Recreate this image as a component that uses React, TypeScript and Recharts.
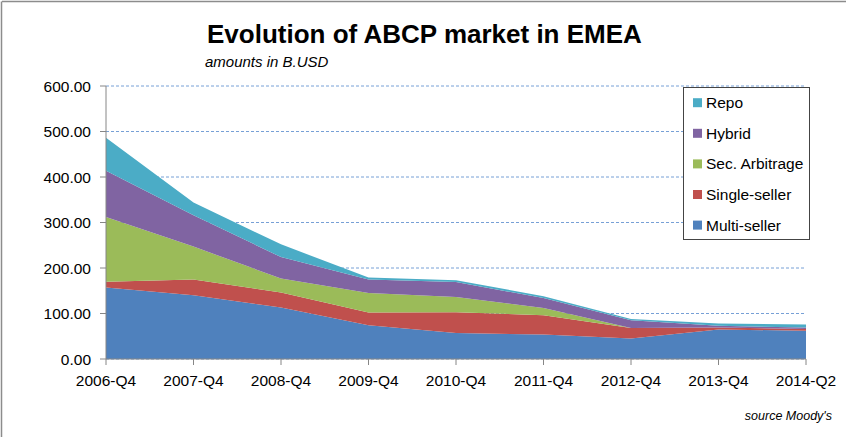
import { AreaChart, Area, XAxis, YAxis, CartesianGrid } from "recharts"

const quarters = ["2006-Q4", "2007-Q4", "2008-Q4", "2009-Q4", "2010-Q4", "2011-Q4", "2012-Q4", "2013-Q4", "2014-Q2"]

const multiSeller = [157, 140, 113, 74, 57, 54, 45, 65, 62]
const singleSeller = [13, 35, 33, 28, 46, 42, 23, 4, 4]
const secArbitrage = [142, 72, 31, 43, 33, 16, 0, 0, 0]
const hybrid = [102, 69, 47, 30, 33, 22, 17, 4, 3]
const repo = [72, 28, 28, 4, 4, 4, 3, 5, 7]

const yTicks = [0, 100, 200, 300, 400, 500, 600]

// bottom to top stacking order
const series = [
  { key: "multi", name: "Multi-seller", color: "#4F81BD", values: multiSeller },
  { key: "single", name: "Single-seller", color: "#C0504D", values: singleSeller },
  { key: "sec", name: "Sec. Arbitrage", color: "#9BBB59", values: secArbitrage },
  { key: "hybrid", name: "Hybrid", color: "#8064A2", values: hybrid },
  { key: "repo", name: "Repo", color: "#4BACC6", values: repo },
]

const data = quarters.map((q, i) => {
  const row: any = { quarter: q }
  series.forEach((s) => {
    row[s.key] = s.values[i]
  })
  return row
})

const font = "'Liberation Sans', Arial, sans-serif"

export default function App() {
  const legendItems = [...series].reverse()

  return (
    <div style={{ position: "absolute", left: 0, top: 0, width: 846, height: 437, background: "#fff", fontFamily: font }}>
      <AreaChart width={846} height={437} data={data} margin={{ top: 86, right: 40, left: 0, bottom: 0 }}>
        <CartesianGrid vertical={false} stroke="#5F8FCF" strokeOpacity={0.85} strokeDasharray="3 2" />
        {series.map((s) => (
          <Area
            key={s.key}
            type="linear"
            dataKey={s.key}
            name={s.name}
            stackId="abcp"
            fill={s.color}
            fillOpacity={1}
            stroke="none"
            isAnimationActive={false}
          />
        ))}
        <XAxis
          dataKey="quarter"
          interval={0}
          height={78}
          tickSize={6}
          tickMargin={10}
          stroke="#868686"
          tick={{ fill: "#000", fontSize: 15.5, fontFamily: font }}
        />
        <YAxis
          domain={[0, 600]}
          ticks={yTicks}
          width={106}
          tickSize={6}
          tickMargin={9}
          stroke="#868686"
          tickFormatter={(v: number) => v.toFixed(2)}
          tick={{ fill: "#000", fontSize: 15.5, fontFamily: font }}
        />
      </AreaChart>

      <svg width={846} height={437} style={{ position: "absolute", left: 0, top: 0, pointerEvents: "none" }}>
        <line x1={2} y1={1.5} x2={846} y2={1.5} stroke="#8C8C8C" strokeWidth={1.5} />
        <line x1={1.5} y1={1.5} x2={1.5} y2={437} stroke="#8C8C8C" strokeWidth={1.5} />
        <text x={207} y={43} fontSize={26} fontWeight="bold" fontFamily={font} fill="#000">
          Evolution of ABCP market in EMEA
        </text>
        <text x={205} y={67} fontSize={15} fontStyle="italic" fontFamily={font} fill="#000">
          amounts in B.USD
        </text>
        <text x={832} y={420} fontSize={12.5} fontStyle="italic" fontFamily={font} fill="#000" textAnchor="end">
          source Moody's
        </text>

        <rect x={683.5} y={87.5} width={126} height={152} fill="#fff" stroke="#444" strokeWidth={1} />
        {legendItems.map((s, i) => {
          const cy = 102.7 + i * 30.6
          return (
            <g key={s.key}>
              <rect x={693} y={cy - 4.5} width={9} height={9} fill={s.color} />
              <text x={706} y={cy + 5.5} fontSize={15.5} fontFamily={font} fill="#000">
                {s.name}
              </text>
            </g>
          )
        })}
      </svg>
    </div>
  )
}
